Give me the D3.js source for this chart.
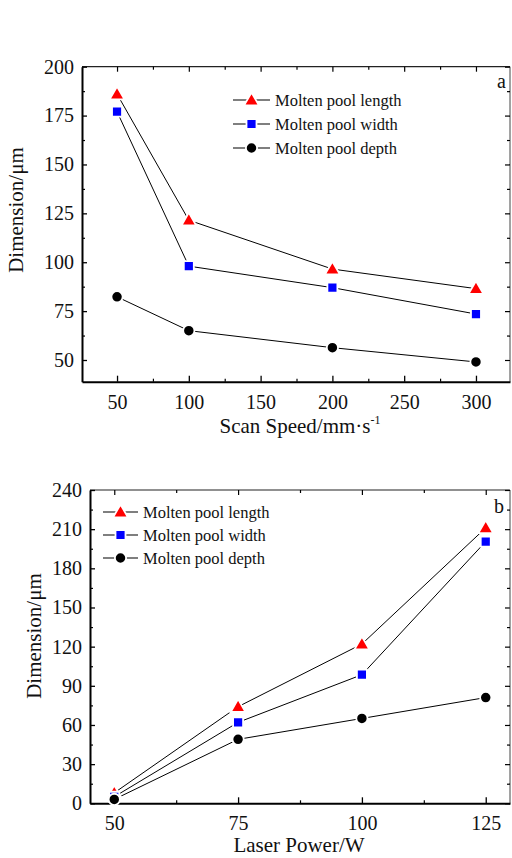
<!DOCTYPE html>
<html><head><meta charset="utf-8">
<script src="https://cdn.jsdelivr.net/npm/d3@7"></script>
<style>
body{margin:0;background:#fff;}
svg{display:block;font-family:"Liberation Serif","Times New Roman",serif;}
svg text{font-family:"Liberation Serif","Times New Roman",serif !important;}
</style></head>
<body>
<script>
// ---- Data: chart a (scan speed) ----
const speed = [50, 100, 200, 300];
const lengthA = [186, 121.5, 96.5, 86.5];
const widthA = [177, 98, 87, 73.5];
const depthA = [82.3, 65, 56.3, 49];
const xTicksA = [50, 100, 150, 200, 250, 300];
const yTicksA = [50, 75, 100, 125, 150, 175, 200];

// ---- Data: chart b (laser power) ----
const power = [50, 75, 100, 125];
const lengthB = [8, 74, 122, 211];
const widthB = [5, 62, 98.5, 200.5];
const depthB = [3, 49, 65, 81];
const xTicksB = [50, 75, 100, 125];
const yTicksB = [0, 30, 60, 90, 120, 150, 180, 210, 240];

const seriesNames = ["Molten pool length", "Molten pool width", "Molten pool depth"];
const seriesColors = ["#ff0000", "#0000ff", "#000000"];
const seriesShapes = ["triangle", "square", "circle"];

const W = 512, H = 858;
const svg = d3.select("body").append("svg").attr("width", W).attr("height", H);

function marker(g, shape, color, x, y) {
  let sym;
  if (shape === "triangle") sym = d3.symbol(d3.symbolTriangle, 95);
  else if (shape === "square") sym = d3.symbol(d3.symbolSquare, 100);
  else sym = d3.symbol(d3.symbolCircle, 100);
  g.append("path").attr("d", sym())
    .attr("transform", `translate(${x},${y})` + (shape === "triangle" ? " translate(0,1)" : ""))
    .attr("fill", color).attr("stroke", "#fff").attr("stroke-width", 1.8);
}

function panel(opt) {
  const {xDomain, yDomain, xRange, yRange, xTicks, yTicks, xMinor, yMinor, xs, ys, letter, letterPos,
         legend, xTitle, yTitle} = opt;
  const x = d3.scaleLinear().domain(xDomain).range(xRange);
  const y = d3.scaleLinear().domain(yDomain).range(yRange);
  const g = svg.append("g");
  const L = xRange[0], R = xRange[1], T = yRange[1], B = yRange[0];

  // frame top/right
  g.append("line").attr("x1", L).attr("x2", R).attr("y1", T).attr("y2", T).attr("stroke", "#222").attr("stroke-width", 1.2);
  g.append("line").attr("x1", R).attr("x2", R).attr("y1", T).attr("y2", B).attr("stroke", "#444").attr("stroke-width", 1);

  // minor ticks
  const styleAxis = sel => { sel.select(".domain").remove(); sel.selectAll("line").attr("stroke", "#000").attr("stroke-width", 1.2); };
  g.append("g").attr("transform", `translate(0,${B})`).call(d3.axisBottom(x).tickValues(xMinor).tickSize(-3).tickFormat("")).call(styleAxis);
  g.append("g").attr("transform", `translate(0,${T})`).call(d3.axisTop(x).tickValues(xMinor).tickSize(-3).tickFormat("")).call(styleAxis);
  g.append("g").attr("transform", `translate(${L},0)`).call(d3.axisLeft(y).tickValues(yMinor).tickSize(-3).tickFormat("")).call(styleAxis);
  g.append("g").attr("transform", `translate(${R},0)`).call(d3.axisRight(y).tickValues(yMinor).tickSize(-3).tickFormat("")).call(styleAxis);
  // major mirrored
  g.append("g").attr("transform", `translate(0,${T})`).call(d3.axisTop(x).tickValues(xTicks).tickSize(-5).tickFormat("")).call(styleAxis);
  g.append("g").attr("transform", `translate(${R},0)`).call(d3.axisRight(y).tickValues(yTicks).tickSize(-5).tickFormat("")).call(styleAxis);

  // major axes with labels
  const ax = g.append("g").attr("transform", `translate(0,${B})`)
    .call(d3.axisBottom(x).tickValues(xTicks).tickSize(-6).tickPadding(13).tickSizeOuter(0));
  const ay = g.append("g").attr("transform", `translate(${L},0)`)
    .call(d3.axisLeft(y).tickValues(yTicks).tickSize(-5).tickPadding(8).tickSizeOuter(0));
  [ax, ay].forEach(a => {
    a.attr("font-family", null).attr("font-size", null);
    a.select(".domain").attr("stroke", "#000").attr("stroke-width", 2);
    a.selectAll(".tick line").attr("stroke", "#000").attr("stroke-width", 1.3);
    a.selectAll("text").attr("font-size", 20).attr("fill", "#111");
  });
  ax.selectAll("text").attr("dy", "0.71em");

  // series lines then markers
  ys.forEach((vals, i) => {
    const pts = xs.map((d, j) => [x(d), y(vals[j])]);
    g.append("path").attr("d", d3.line()(pts)).attr("fill", "none").attr("stroke", "#000").attr("stroke-width", 1);
  });
  ys.forEach((vals, i) => {
    xs.forEach((d, j) => marker(g, seriesShapes[i], seriesColors[i], x(d), y(vals[j])));
  });

  // legend
  seriesNames.forEach((name, i) => {
    const cy = legend.y + i * legend.dy;
    const lg = g.append("g");
    lg.append("line").attr("x1", legend.x).attr("x2", legend.x + legend.len).attr("y1", cy).attr("y2", cy).attr("stroke", "#000").attr("stroke-width", 1.2);
    marker(lg, seriesShapes[i], seriesColors[i], legend.x + legend.len / 2, cy);
    lg.append("text").attr("x", legend.x + legend.len + 5).attr("y", cy + 5.5)
      .attr("font-size", 16.5).attr("fill", "#111").text(name);
  });

  g.append("text").attr("x", letterPos[0]).attr("y", letterPos[1]).attr("font-size", 20).attr("text-anchor", "middle").attr("fill", "#111").text(letter);

  // titles
  const xt = g.append("text").attr("x", xTitle.x).attr("y", xTitle.y).attr("text-anchor", "middle").attr("font-size", 21).attr("fill", "#111");
  xt.append("tspan").text(xTitle.text);
  if (xTitle.sup) xt.append("tspan").attr("dy", -9).attr("font-size", 12).text(xTitle.sup);
  g.append("text").attr("transform", `translate(${yTitle.x},${yTitle.y}) rotate(-90)`).attr("text-anchor", "middle")
    .attr("font-size", 21).attr("fill", "#111").text(yTitle.text);
}

panel({
  xDomain: [25.6, 323.7], xRange: [82, 510],
  yDomain: [38.9, 200], yRange: [381.7, 66.7],
  xTicks: xTicksA, yTicks: yTicksA,
  xMinor: [75, 125, 175, 225, 275], yMinor: [62.5, 87.5, 112.5, 137.5, 162.5, 187.5],
  xs: speed, ys: [lengthA, widthA, depthA],
  letter: "a", letterPos: [501.5, 88],
  legend: {x: 233, len: 37, y: 100, dy: 24},
  xTitle: {x: 300, y: 433, text: "Scan Speed/mm·s", sup: "-1"},
  yTitle: {x: 23, y: 210, text: "Dimension/μm"}
});

panel({
  xDomain: [45.1, 129.9], xRange: [90, 510],
  yDomain: [0, 240], yRange: [803.3, 490],
  xTicks: xTicksB, yTicks: yTicksB,
  xMinor: [62.5, 87.5, 112.5], yMinor: [15, 45, 75, 105, 135, 165, 195, 225],
  xs: power, ys: [lengthB, widthB, depthB],
  letter: "b", letterPos: [499, 513],
  legend: {x: 103, len: 35, y: 512, dy: 23},
  xTitle: {x: 299, y: 852, text: "Laser Power/W"},
  yTitle: {x: 41, y: 636, text: "Dimension/μm"}
});
</script>
</body></html>
